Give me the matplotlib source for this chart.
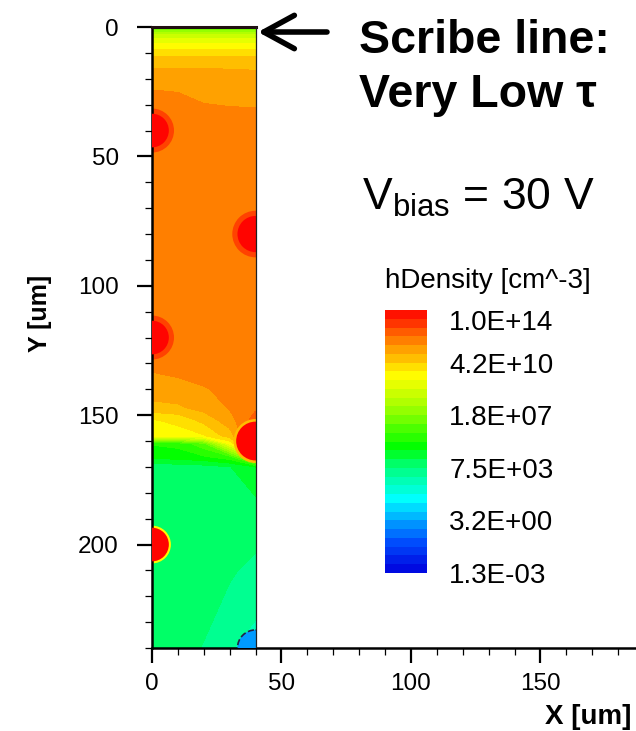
import numpy as np
import matplotlib
matplotlib.use("Agg")
import matplotlib.pyplot as plt
from matplotlib.colors import LinearSegmentedColormap
from matplotlib.patches import Circle, Rectangle

plt.rcParams['font.family'] = ['Liberation Sans', 'DejaVu Sans']
plt.rcParams['mathtext.fontset'] = 'custom'
plt.rcParams['mathtext.rm'] = 'Liberation Sans'

# Mesh nodes of the device cut (um) and log10(hDensity [cm^-3])
x_nodes = [0, 10, 20, 30, 40]
y_nodes = [0, 3, 8, 13, 21, 27, 33, 40, 60, 80, 100, 120, 132, 140, 147, 152,
           158, 161, 166, 170, 190, 210, 225, 240]
log_h = [
    [6.2, 6.2, 6.2, 6.2, 6.2],
    [8.6, 8.6, 8.6, 8.6, 8.6],
    [9.9, 9.9, 9.9, 9.9, 9.9],
    [11.0, 11.0, 11.0, 11.0, 11.0],
    [11.5, 11.5, 11.5, 11.45, 11.4],
    [11.95, 11.85, 11.6, 11.5, 11.5],
    [12.05, 12.0, 11.95, 11.9, 11.85],
    [12.0, 12.0, 12.0, 12.0, 12.0],
    [12.0, 12.0, 12.0, 12.0, 12.0],
    [12.0, 12.0, 12.0, 12.0, 12.0],
    [12.0, 12.0, 12.0, 12.0, 12.0],
    [12.0, 12.0, 12.0, 12.0, 12.0],
    [11.8, 11.9, 12.0, 12.0, 12.0],
    [11.5, 11.55, 11.7, 11.9, 12.0],
    [11.0, 11.1, 11.4, 11.8, 12.2],
    [10.0, 10.2, 10.8, 11.5, 12.6],
    [9.8, 9.8, 10.0, 10.9, 12.8],
    [5.6, 5.7, 6.5, 9.6, 12.5],
    [5.2, 5.3, 5.5, 6.0, 9.0],
    [4.1, 4.1, 4.2, 4.4, 5.0],
    [4.0, 4.0, 4.0, 4.0, 4.0],
    [4.0, 4.0, 4.0, 3.9, 3.8],
    [4.0, 4.0, 3.95, 3.8, 3.5],
    [4.0, 4.0, 3.85, 3.4, 2.8],
]

# Contacts (strip implants) on the device edges
contact_x = [0, 40, 0, 40, 0, 40]
contact_y = [40, 80, 120, 160, 200, 240]
contact_r = [6.5, 7.0, 6.5, 7.5, 6.5, 7.0]
contact_logh = [13.9, 13.9, 13.9, 13.9, 13.9, 0.3]
halo_r = [8.5, 9.0, 8.5, 8.5, 7.3, 0.0]
halo_logh = [13.0, 13.0, 13.0, 11.0, 9.9, 0.3]

# Colorbar
cbar_values = [1.0e14, 4.2e10, 1.8e7, 7.5e3, 3.2e0, 1.3e-3]
n_bands = 30

cmap = LinearSegmentedColormap.from_list("tdr", [
    (0.00, '#0000dc'), (0.12, '#0050ff'), (0.28, '#00ffff'), (0.40, '#00ff80'),
    (0.48, '#00ff00'), (0.62, '#99ff00'), (0.75, '#ffff00'), (0.88, '#ff8600'),
    (1.00, '#ff0000')])

vmin = np.log10(min(cbar_values))
vmax = np.log10(max(cbar_values))
levels = np.linspace(vmin, vmax, n_bands + 1)

fig = plt.figure(figsize=(6.36, 7.31), dpi=100)
ax = fig.add_axes([0.239, 0.1135, 0.761, 0.8495])

cs = ax.contourf(x_nodes, y_nodes, np.array(log_h), levels=levels, cmap=cmap,
                 vmin=vmin, vmax=vmax)

device = Rectangle((0, 0), 40, 240, transform=ax.transData, fill=False)
for cx, cy, r, v, hr, hv in zip(contact_x, contact_y, contact_r, contact_logh, halo_r, halo_logh):
    if hr > 0:
        h = Circle((cx, cy), hr, color=cmap(cs.norm(hv)), lw=0, zorder=2)
        ax.add_patch(h)
        h.set_clip_path(device)
    c = Circle((cx, cy), r, facecolor=cmap(cs.norm(v)), lw=0, zorder=3)
    ax.add_patch(c)
    c.set_clip_path(device)
    if v < 5:
        c.set_edgecolor('#222244')
        c.set_linestyle('--')
        c.set_linewidth(1.2)

# device outline
ax.plot([0, 40], [0, 0], color='#201010', lw=2.2, zorder=5, clip_on=False)
ax.plot([40, 40], [0, 240], color='#202020', lw=0.9, zorder=5)

ax.set_xlim(0, 186.9)
ax.set_ylim(240, 0)
ax.spines['top'].set_visible(False)
ax.spines['right'].set_visible(False)
ax.spines['left'].set_linewidth(1.8)
ax.spines['bottom'].set_linewidth(1.8)
ax.set_xticks([0, 50, 100, 150])
ax.set_xticks(np.arange(0, 190, 10), minor=True)
ax.set_yticks([0, 50, 100, 150, 200])
ax.set_yticks(np.arange(0, 241, 10), minor=True)
ax.tick_params(which='major', length=11, width=1.6, labelsize=17.5)
ax.tick_params(which='minor', length=5, width=0.9)
ax.tick_params(axis='x', which='major', pad=7)
ax.tick_params(axis='y', which='major', pad=13)

ax.set_xlabel('X [um]', fontsize=20, fontweight='bold', va='center', ha='center')
ax.xaxis.set_label_coords(0.901, -0.111)
ax.set_ylabel('Y [um]', fontsize=18, fontweight='bold', va='center', ha='center')
ax.yaxis.set_label_coords(-0.231, 0.539)

# colorbar
cax = fig.add_axes([0.6053, 0.2161, 0.066, 0.3598])
cb = fig.colorbar(cs, cax=cax, ticks=np.log10(cbar_values))
cb.outline.set_visible(False)
cb.ax.set_yticklabels(['%.1E' % v for v in cbar_values])
cb.ax.tick_params(length=0, pad=16, labelsize=20)
cb.ax.get_yticklabels()[0].set_va('top')
fig.text(385 / 636, 1 - 281 / 731, 'hDensity [cm^-3]', fontsize=20, va='center', ha='left')

# annotations
fig.text(359 / 636, 1 - 53 / 731, 'Scribe line:', fontsize=33.5, fontweight='bold',
         ha='left', va='baseline')
fig.text(359 / 636, 1 - 107 / 731, 'Very Low \u03c4', fontsize=33.5, fontweight='bold',
         ha='left', va='baseline')
fig.text(362 / 636, 1 - 210 / 731, r'V$_{\mathrm{bias}}$ = 30 V', fontsize=32,
         ha='left', va='baseline')
ax.annotate('', xy=(258 / 636, 1 - 32 / 731), xycoords='figure fraction',
            xytext=(327 / 636, 1 - 32 / 731), textcoords='figure fraction',
            arrowprops=dict(arrowstyle='->,head_length=1.1,head_width=0.6',
                            mutation_scale=20, lw=4, color='black',
                            shrinkA=0, shrinkB=0))

fig.savefig('out.png', dpi=100)
